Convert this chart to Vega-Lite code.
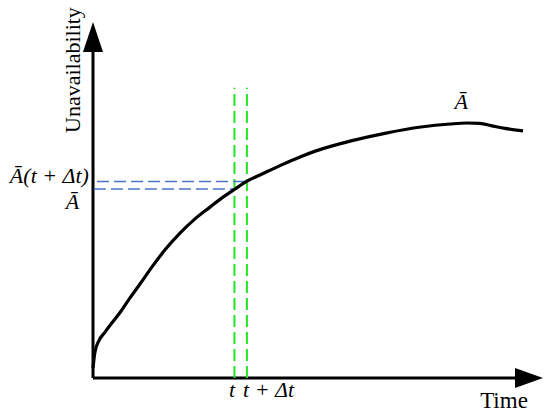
{
  "$schema": "https://vega.github.io/schema/vega-lite/v6.json",
  "width": 450,
  "height": 356,
  "autosize": "none",
  "padding": {"left": 93, "top": 22, "right": 7, "bottom": 36},
  "background": "white",
  "config": {"view": {"stroke": null}},
  "datasets": {
    "curve": [
      {"t": 0, "u": 0.028}, {"t": 0.044, "u": 0.073}, {"t": 0.133, "u": 0.105},
      {"t": 0.267, "u": 0.129}, {"t": 0.422, "u": 0.155}, {"t": 0.6, "u": 0.184},
      {"t": 0.822, "u": 0.225}, {"t": 1.044, "u": 0.264}, {"t": 1.311, "u": 0.312},
      {"t": 1.6, "u": 0.36}, {"t": 1.933, "u": 0.407}, {"t": 2.267, "u": 0.447},
      {"t": 2.6, "u": 0.48}, {"t": 2.867, "u": 0.506}, {"t": 3.156, "u": 0.531},
      {"t": 3.422, "u": 0.553}, {"t": 3.756, "u": 0.573}, {"t": 4.178, "u": 0.598},
      {"t": 4.6, "u": 0.621}, {"t": 4.956, "u": 0.638}, {"t": 5.733, "u": 0.666},
      {"t": 6.511, "u": 0.688}, {"t": 7.289, "u": 0.705}, {"t": 7.933, "u": 0.7135},
      {"t": 8.311, "u": 0.7163}, {"t": 8.6, "u": 0.715}, {"t": 8.844, "u": 0.709},
      {"t": 9.156, "u": 0.701}, {"t": 9.556, "u": 0.694}
    ],
    "vlines": [
      {"t": 3.144, "u0": 0, "u1": 0.815},
      {"t": 3.42, "u0": 0, "u1": 0.815}
    ],
    "hlines": [
      {"t0": 0.09, "t1": 3.42, "u": 0.552},
      {"t0": 0.02, "t1": 3.144, "u": 0.531}
    ]
  },
  "layer": [
    {
      "data": {"values": [{"t0": 0, "t1": 9.45, "u": 0}]},
      "mark": {"type": "rule", "color": "black", "strokeWidth": 3},
      "encoding": {
        "x": {"field": "t0", "type": "quantitative", "scale": {"domain": [0, 10], "nice": false, "zero": false}, "axis": null},
        "x2": {"field": "t1"},
        "y": {"field": "u", "type": "quantitative", "scale": {"domain": [0, 1], "nice": false, "zero": false}, "axis": null}
      }
    },
    {
      "data": {"values": [{"t": 0, "u0": 0, "u1": 0.93}]},
      "mark": {"type": "rule", "color": "black", "strokeWidth": 3},
      "encoding": {
        "x": {"field": "t", "type": "quantitative"},
        "y": {"field": "u0", "type": "quantitative"},
        "y2": {"field": "u1"}
      }
    },
    {
      "data": {"values": [{"t": 10, "u": 0}]},
      "mark": {"type": "point", "shape": "M0,0L-2,-0.714L-2,0.714Z", "size": 784, "filled": true, "color": "black", "opacity": 1, "strokeWidth": 0},
      "encoding": {
        "x": {"field": "t", "type": "quantitative"},
        "y": {"field": "u", "type": "quantitative"}
      }
    },
    {
      "data": {"values": [{"t": 0, "u": 1}]},
      "mark": {"type": "point", "shape": "M0,0L0.667,2L-0.667,2Z", "size": 900, "filled": true, "color": "black", "opacity": 1, "strokeWidth": 0},
      "encoding": {
        "x": {"field": "t", "type": "quantitative"},
        "y": {"field": "u", "type": "quantitative"}
      }
    },
    {
      "data": {"name": "vlines"},
      "mark": {"type": "rule", "color": "#22e622", "strokeWidth": 2, "strokeDash": [12, 5]},
      "encoding": {
        "x": {"field": "t", "type": "quantitative"},
        "y": {"field": "u0", "type": "quantitative"},
        "y2": {"field": "u1"}
      }
    },
    {
      "data": {"name": "hlines"},
      "mark": {"type": "rule", "color": "#4a74c8", "strokeWidth": 1.6, "strokeDash": [12, 5]},
      "encoding": {
        "x": {"field": "t0", "type": "quantitative"},
        "x2": {"field": "t1"},
        "y": {"field": "u", "type": "quantitative"}
      }
    },
    {
      "data": {"name": "curve"},
      "mark": {"type": "line", "color": "black", "strokeWidth": 3.2, "interpolate": "monotone"},
      "encoding": {
        "x": {"field": "t", "type": "quantitative"},
        "y": {"field": "u", "type": "quantitative"}
      }
    },
    {
      "data": {"values": [
        {"t": -0.09, "u": 0.548, "label": "Ā(t + Δt)"}
      ]},
      "mark": {"type": "text", "font": "Liberation Serif", "fontSize": 22, "fontStyle": "italic", "color": "black", "baseline": "alphabetic", "align": "right"},
      "encoding": {
        "x": {"field": "t", "type": "quantitative"},
        "y": {"field": "u", "type": "quantitative"},
        "text": {"field": "label"}
      }
    },
    {
      "data": {"values": [
        {"t": -0.456, "u": 0.475, "label": "Ā"},
        {"t": 8.18, "u": 0.756, "label": "Ā"},
        {"t": 3.089, "u": -0.053, "label": "t"},
        {"t": 3.9, "u": -0.053, "label": "t + Δt"}
      ]},
      "mark": {"type": "text", "font": "Liberation Serif", "fontSize": 22, "fontStyle": "italic", "color": "black", "baseline": "alphabetic", "align": "center"},
      "encoding": {
        "x": {"field": "t", "type": "quantitative"},
        "y": {"field": "u", "type": "quantitative"},
        "text": {"field": "label"}
      }
    },
    {
      "data": {"values": [{"t": 9.133, "u": -0.084, "label": "Time"}]},
      "mark": {"type": "text", "font": "Liberation Serif", "fontSize": 23, "color": "black", "baseline": "alphabetic", "align": "center"},
      "encoding": {
        "x": {"field": "t", "type": "quantitative"},
        "y": {"field": "u", "type": "quantitative"},
        "text": {"field": "label"}
      }
    },
    {
      "data": {"values": [{"t": -0.289, "u": 0.865, "label": "Unavailability"}]},
      "mark": {"type": "text", "font": "Liberation Serif", "fontSize": 22, "color": "black", "baseline": "alphabetic", "align": "center", "angle": 270},
      "encoding": {
        "x": {"field": "t", "type": "quantitative"},
        "y": {"field": "u", "type": "quantitative"},
        "text": {"field": "label"}
      }
    }
  ]
}
